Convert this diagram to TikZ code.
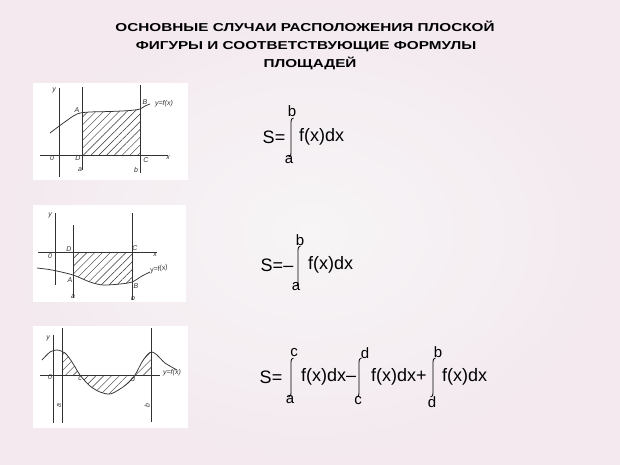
\documentclass[tikz,border=0pt]{standalone}
\usepackage{fontspec}
\setmainfont{Liberation Sans}
\usepackage{graphicx}
\usetikzlibrary{patterns.meta}

\definecolor{bgpink}{RGB}{243,233,239}
\definecolor{bgmid}{RGB}{247,245,246}
\definecolor{pen}{RGB}{50,50,50}

\tikzset{
  sketch/.style={draw=pen, line width=0.75pt},
  hatch/.style={pattern={Lines[angle=45,distance=5.5pt,line width=0.45pt]}, pattern color=pen},
  handlabel/.style={font=\fontsize{7}{7}\selectfont\itshape, text=pen, inner sep=0.5pt},
  formula/.style={font=\fontsize{18}{20}\selectfont, inner sep=0pt},
  lim/.style={font=\fontsize{15}{16}\selectfont, inner sep=0pt},
  titletext/.style={font=\fontsize{11.5}{12}\selectfont\bfseries, inner sep=0pt, anchor=base}
}

% integral sign: x, top y, bottom y
\newcommand\intsign[3]{%
  \draw[line width=0.8pt] (#1+2.5,#2) .. controls (#1+0.8,#2) and (#1,#2+1.5) .. (#1,#2+5)
    -- (#1,#3-5) .. controls (#1,#3-1.5) and (#1-0.8,#3) .. (#1-2.5,#3);}

% the three curves
\newcommand\curveA{plot[smooth] coordinates {(50,133) (62,124) (77,114) (90,112) (110,111.5) (130,110.5) (140,109) (145,106) (150,104)}}
\newcommand\curveB{plot[smooth] coordinates {(37,268) (52,270) (73,275) (90,282) (103,285) (120,284) (132,282) (142,276) (150,272)}}
\newcommand\curveC{plot[smooth] coordinates {(42,360) (50,352) (57,350) (65,353) (72,362) (80,375) (90,386) (100,392) (110,394) (120,389) (128,383) (135,375) (142,362) (148,354) (152,352) (157,355) (165,363) (177,370)}}

\begin{document}
\begin{tikzpicture}[x=1pt,y=-1pt]
\useasboundingbox (0,0) rectangle (620,464);
\shade[inner color=bgmid, outer color=bgpink] (0,0) rectangle (620,464);

% title
\node[titletext] (t1) at (305,31) {\scalebox{1.33}[1]{ОСНОВНЫЕ СЛУЧАИ РАСПОЛОЖЕНИЯ ПЛОСКОЙ}};
\node[titletext] (t2) at (306,49) {\scalebox{1.33}[1]{ФИГУРЫ И СООТВЕТСТВУЮЩИЕ ФОРМУЛЫ}};
\node[titletext] (t3) at (310,67) {\scalebox{1.33}[1]{ПЛОЩАДЕЙ}};

% sketch 1
\fill[white] (33,83) rectangle (188,180);
\begin{scope}
  \clip (82,80) rectangle (140,160);
  \fill[hatch] \curveA -- (150,155) -- (50,155) -- cycle;
\end{scope}
\draw[sketch] (59,88) -- (59,177);
\draw[sketch] (40,155) -- (168,155);
\draw[sketch] (82,87) -- (82,170);
\draw[sketch] (140,85) -- (140,173);
\draw[sketch] \curveA;
\node[handlabel] (y1) at (54,90) {y};
\node[handlabel] (x1) at (168,158) {x};
\node[handlabel] (o1) at (52,158) {0};
\node[handlabel] (pa1) at (77,110) {A};
\node[handlabel] (pb1) at (145,102) {B};
\node[handlabel] (pd1) at (78,158) {D};
\node[handlabel] (pc1) at (146,160) {C};
\node[handlabel] (la1) at (80,170) {a};
\node[handlabel] (lb1) at (136,170) {b};
\node[handlabel] (f1) at (164,104) {y=f(x)};

% sketch 2
\fill[white] (33,205) rectangle (186,302);
\begin{scope}
  \clip (73,250) rectangle (132,300);
  \fill[hatch] \curveB -- (150,252) -- (37,252) -- cycle;
\end{scope}
\draw[sketch] (55,213) -- (55,285);
\draw[sketch] (38,252) -- (157,252);
\draw[sketch] (73,225) -- (73,298);
\draw[sketch] (132,213) -- (132,300);
\draw[sketch] \curveB;
\node[handlabel] (y2) at (50,215) {y};
\node[handlabel] (x2) at (155,255) {x};
\node[handlabel] (o2) at (50,256) {0};
\node[handlabel] (pa2) at (70,280) {A};
\node[handlabel] (pb2) at (136,286) {B};
\node[handlabel] (pd2) at (69,249) {D};
\node[handlabel] (pc2) at (135,248) {C};
\node[handlabel] (la2) at (73,297) {a};
\node[handlabel] (lb2) at (133,298) {b};
\node[handlabel, rotate=10] (f2) at (159,269) {y=f(x)};

% sketch 3
\fill[white] (33,326) rectangle (188,428);
\begin{scope}
  \clip (62,330) rectangle (151,420);
  \fill[hatch] \curveC -- (177,375) -- (42,375) -- cycle;
\end{scope}
\draw[sketch] (53,335) -- (53,423);
\draw[sketch] (40,375) -- (160,375);
\draw[sketch] (62,328) -- (62,423);
\draw[sketch] (151,328) -- (151,422);
\draw[sketch] \curveC;
\node[handlabel] (y3) at (48,338) {y};
\node[handlabel] (o3) at (50,377) {0};
\node[handlabel] (pc3) at (80,379) {c};
\node[handlabel] (pd3) at (133,379) {d};
\node[handlabel, rotate=90] (la3) at (59,406) {a};
\node[handlabel, rotate=90] (lb3) at (147,406) {b};
\node[handlabel] (f3) at (172,373) {y=f(x)};

% formula 1
\node[formula] (s1) at (274,137) {S=};
\intsign{291}{118}{157}
\node[lim] (up1) at (292,111) {b};
\node[lim] (lo1) at (289,160) {a};
\node[formula, anchor=west] (int1) at (299,137) {f(x)dx};

% formula 2
\node[formula] (s2) at (277,265) {S=–};
\intsign{298}{246}{286}
\node[lim] (up2) at (300,240) {b};
\node[lim] (lo2) at (296,287) {a};
\node[formula, anchor=west] (int2) at (308,265) {f(x)dx};

% formula 3
\node[formula] (s3) at (271,377) {S=};
\intsign{291}{358}{397}
\node[lim] (up3a) at (294,353) {c};
\node[lim] (lo3a) at (290,400) {a};
\node[formula, anchor=west] (int3a) at (301,377) {f(x)dx–};
\intsign{359}{358}{397}
\node[lim] (up3b) at (365,353) {d};
\node[lim] (lo3b) at (358,401) {c};
\node[formula, anchor=west] (int3b) at (371,377) {f(x)dx+};
\intsign{433}{358}{397}
\node[lim] (up3c) at (438,352) {b};
\node[lim] (lo3c) at (432,402) {d};
\node[formula, anchor=west] (int3c) at (442,377) {f(x)dx};
\end{tikzpicture}
\end{document}
